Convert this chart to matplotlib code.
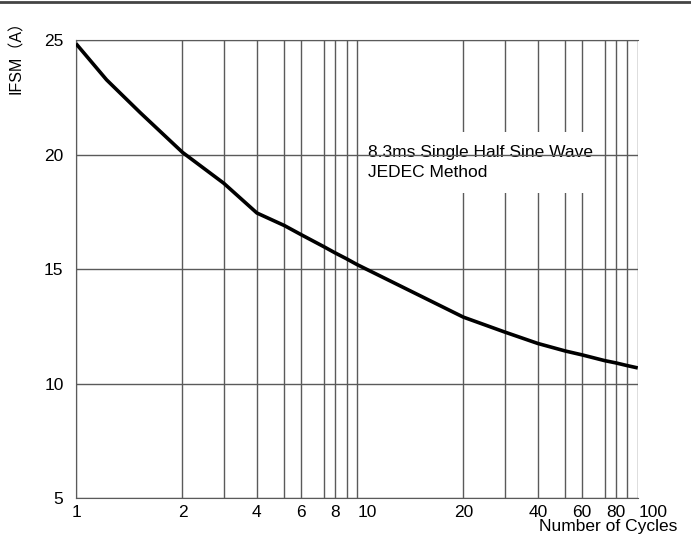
import numpy as np
import matplotlib
matplotlib.use("Agg")
import matplotlib.pyplot as plt
import matplotlib.transforms as mtransforms
from matplotlib.lines import Line2D

plt.rcParams["font.family"] = ["Liberation Sans", "Noto Sans CJK SC", "DejaVu Sans"]

# surge current vs number of cycles
cycles = [1, 1.22, 1.52, 2, 3, 4, 5, 6, 7, 8, 9, 10, 20, 30, 40, 50, 60, 70, 80, 90, 100]
ifsm = [24.85, 23.27, 21.83, 20.1, 18.75, 17.45, 16.9, 16.5, 15.98, 15.71, 15.45, 15.2,
        12.9, 12.25, 11.75, 11.42, 11.25, 11.0, 10.9, 10.78, 10.68]

x_ticks = [1, 2, 4, 6, 8, 10, 20, 40, 60, 80, 100]
x_grid = [1, 2, 3, 4, 5, 6, 7, 8, 9, 10, 20, 30, 40, 50, 60, 70, 80, 90, 100]
y_ticks = [5, 10, 15, 20, 25]

# the printed log paper is not a true log scale: spacing of 1..10 within a decade
mant_log = np.log10(np.arange(1, 11))
mant_pos = np.array([0, .379, .526, .644, .742, .802, .882, .922, .963, 1.0])


def fwd(x):
    lx = np.log10(np.clip(np.asarray(x, dtype=float), 1e-9, None))
    d = np.floor(lx)
    return d + np.interp(lx - d, mant_log, mant_pos)


def inv(y):
    y = np.asarray(y, dtype=float)
    d = np.floor(y)
    return 10 ** (d + np.interp(y - d, mant_pos, mant_log))


fig = plt.figure(figsize=(6.91, 5.36), dpi=100)
ax = fig.add_axes([0.110, 0.071, 0.813, 0.854])
ax.set_xscale("function", functions=(fwd, inv))
ax.set_xlim(1, 100)
ax.set_ylim(5, 25)

gc = "#5a5a5a"
for xv in x_grid:
    # the note box hides the grid lines 20..60 only
    z = 1 if 20 <= xv <= 60 else 4
    ax.axvline(xv, color=gc, lw=1.0, zorder=z)
for yv in y_ticks:
    ax.axhline(yv, color=gc, lw=1.0, zorder=4 if yv == 20 else 1)

ax.plot(cycles, ifsm, color="black", lw=2.6, zorder=5, solid_capstyle="butt")

ax.text(10.75, 20.42, "8.3ms Single Half Sine Wave\nJEDEC Method", fontsize=12.5,
        va="top", ha="left", linespacing=1.42, zorder=3,
        bbox=dict(facecolor="white", edgecolor="none",
                  boxstyle="square,pad=0.75"))

ax.set_xticks(x_ticks)
ax.set_xticklabels([str(v) for v in x_ticks])
ax.set_xticks([], minor=True)
ax.set_yticks(y_ticks)
ax.tick_params(length=0, labelsize=12.5)
ax.tick_params(axis="x", pad=5)
ax.tick_params(axis="y", pad=9)
shift = mtransforms.ScaledTranslation(1 / 100, 0, fig.dpi_scale_trans)
for lab in ax.get_xticklabels():
    if lab.get_text() in ("10", "100"):
        lab.set_ha("left")
        lab.set_transform(lab.get_transform() + shift)

ax.spines["right"].set_visible(False)
ax.spines["top"].set_color(gc)
ax.spines["bottom"].set_color(gc)
ax.spines["left"].set_color("#222222")

fig.text(0.024, 0.975, "IFSM（A）", rotation=90, va="top", ha="center", fontsize=11.5)
fig.text(677 / 691, 1 - 527 / 536, "Number of Cycles", ha="right", va="center",
         fontsize=12.5)

fig.add_artist(Line2D([0, 1], [0.996, 0.996], color="#444444", lw=2,
                      transform=fig.transFigure))

fig.savefig("out.png", dpi=100)
